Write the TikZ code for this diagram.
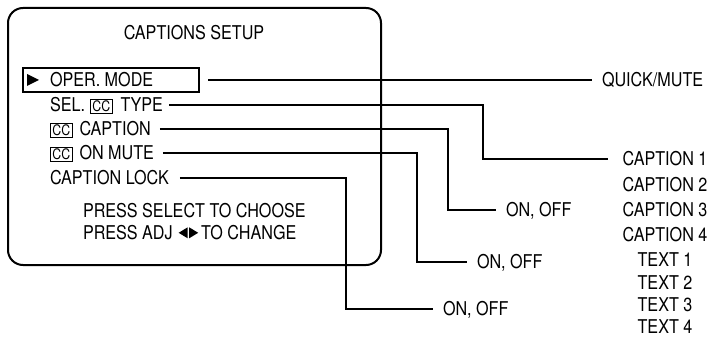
\documentclass[tikz,border=0pt]{standalone}
\usepackage{fontspec}
\setmainfont[FakeStretch=0.85]{TeX Gyre Heros}
\newcommand\ccmark{{\fboxsep=1.2pt\fboxrule=0.8pt\fbox{\makebox[18.5pt]{\rule[0pt]{0pt}{11.2pt}\fontsize{14.5}{14.5}\selectfont CC}}}}
\newcommand\lefttri{\tikz[baseline=0pt]\fill (9pt,1.5pt) -- (9pt,12.5pt) -- (0pt,7pt) -- cycle;}
\newcommand\righttri{\tikz[baseline=0pt]\fill (0pt,1.5pt) -- (0pt,12.5pt) -- (9pt,7pt) -- cycle;}
\begin{document}
\begin{tikzpicture}[x=1pt,y=-1pt,
  lbl/.style={font=\fontsize{19}{19}\selectfont, text height=13.6pt, text depth=0pt, inner ysep=0pt, outer sep=0pt},
  rowtext/.style={lbl, anchor=west, inner xsep=6pt},
  target/.style={lbl, anchor=west, inner xsep=10pt},
  item/.style={lbl, inner xsep=0pt},
  plain/.style={lbl, anchor=west, inner xsep=0pt},
  link/.style={line width=1.3pt},
  screenbox/.style={draw, line width=2pt, rounded corners=15pt, inner sep=0pt},
  selbox/.style={draw, line width=2pt, inner sep=0pt}]
\useasboundingbox (0,0) rectangle (713,337);
% screen frame
\node[screenbox, minimum width=373pt, minimum height=257pt] (screen) at (194.5,136.5) {};
\node[lbl] (title) at (194,33) {CAPTIONS SETUP};
% selected row
\node[selbox, minimum width=176pt, minimum height=24pt] (operbox) at (111,80) {};
\fill (27,74) -- (27,86) -- (39,80) -- cycle;
\node[rowtext] (oper) at (44,80) {OPER. MODE};
\node[rowtext] (sel) at (44,105) {SEL.\hspace{5pt}\ccmark\hspace{8pt}TYPE};
\node[rowtext, inner xsep=9pt] (cap) at (41,129) {\ccmark\hspace{7pt}CAPTION};
\node[rowtext, inner xsep=9pt] (mute) at (41,153) {\ccmark\hspace{7pt}ON MUTE};
\node[rowtext, inner xsep=11pt] (lock) at (39,178) {CAPTION LOCK};
\node[plain] (press1) at (83,211) {PRESS SELECT TO CHOOSE};
\node[plain] (press2) at (83,233) {PRESS ADJ\hspace{6pt}\lefttri\hspace{1.5pt}\righttri\hspace{3pt}TO CHANGE};
% targets
\node[target] (quick) at (592,80) {QUICK/MUTE};
\node[target] (onoff1) at (496,210) {ON, OFF};
\node[target] (onoff2) at (467,262) {ON, OFF};
\node[target] (onoff3) at (433,309) {ON, OFF};
\node[item] (c1) at (665,159) {CAPTION 1};
\node[item] (c2) at (665,184.5) {CAPTION 2};
\node[item] (c3) at (665,210) {CAPTION 3};
\node[item] (c4) at (665,235) {CAPTION 4};
\node[item] (t1) at (665,259.5) {TEXT 1};
\node[item] (t2) at (665,282.5) {TEXT 2};
\node[item] (t3) at (665,305) {TEXT 3};
\node[item] (t4) at (665,327) {TEXT 4};
% bend columns
\coordinate (b1) at (483,0);
\coordinate (b2) at (448,0);
\coordinate (b3) at (417,0);
\coordinate (b4) at (346,0);
% connectors
\draw[link] ([xshift=8pt]operbox.east) -- (quick.west);
\draw[link] (sel.east) -- (sel.east -| b1) |- ([xshift=-15pt]c1.west);
\draw[link] (cap.east) -- (cap.east -| b2) |- (onoff1.west);
\draw[link] (mute.east) -- (mute.east -| b3) |- (onoff2.west);
\draw[link] (lock.east) -- (lock.east -| b4) |- (onoff3.west);
\end{tikzpicture}
\end{document}
